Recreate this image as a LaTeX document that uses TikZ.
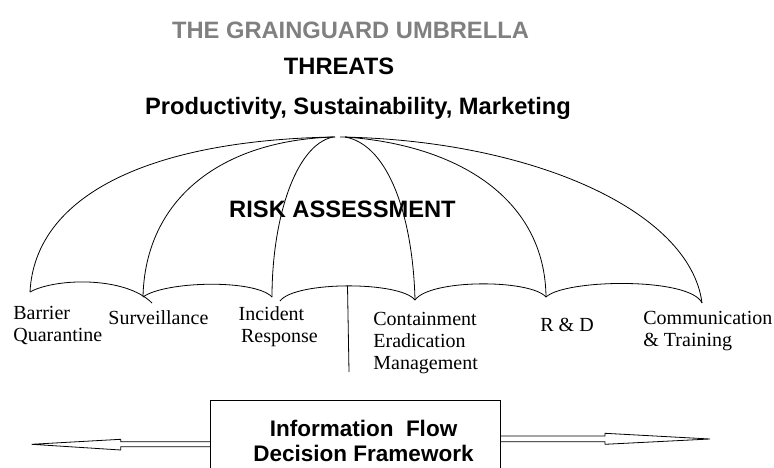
\documentclass[tikz,border=0pt]{standalone}
\usepackage{fontspec}
\setmainfont{Liberation Serif}
\newfontfamily\arialf{Liberation Sans}
\usetikzlibrary{calc}
\definecolor{titlegray}{RGB}{128,128,128}
\begin{document}
\begin{tikzpicture}[x=1bp,y=-1bp, line width=0.8bp, line join=miter,
  heading/.style={font=\arialf\bfseries\fontsize{23.7bp}{28bp}\selectfont, inner sep=0, anchor=base},
  ribtext/.style={font=\fontsize{20bp}{22bp}\selectfont, inner sep=0, anchor=base west, align=left},
  boxtext/.style={font=\arialf\bfseries\fontsize{22.5bp}{25bp}\selectfont, inner sep=0, anchor=base, align=center},
  framebox/.style={draw=none, minimum width=289bp, minimum height=67bp, inner sep=0}
]
\useasboundingbox (0,0) rectangle (774,468);

% headings
\node[heading, text=titlegray] (title) at (350.5,39) {THE GRAINGUARD UMBRELLA};
\node[heading] (threats) at (339,74.5) {THREATS};
\node[heading] (pillars) at (358,115) {Productivity, Sustainability, Marketing};
\node[heading] (risk) at (342.5,217.3) {RISK ASSESSMENT};

% rib ends
\coordinate (r1) at (30,292);
\coordinate (r2) at (143,297);
\coordinate (r3) at (272,297);
\coordinate (r4) at (415,300);
\coordinate (r5) at (546,297);
\coordinate (r6) at (702,303);
\coordinate (pb) at (349,372);

% ribs
\draw (335,137) .. controls (150,140) and (35,195) .. (r1);
\draw (335,137) .. controls (220,140) and (145,200) .. (r2);
\draw (333,137) .. controls (295,145) and (272,220) .. (r3);
\draw (345,137) .. controls (390,145) and (413,220) .. (r4);
\draw (345,137) .. controls (460,145) and (545,200) .. (r5);
\draw (340,137) .. controls (530,140) and (690,210) .. (r6);

% hem
\draw (r1) .. controls (55,278) and (125,276) .. (152,303);
\draw (r2) .. controls (165,281) and (255,279) .. (r3);
\draw (280,301) .. controls (295,281) and (400,281) .. coordinate[pos=0.5] (pt) (r4);
\draw (r4) .. controls (430,279) and (530,279) .. (r5);
\draw (r5) .. controls (565,279) and (690,277) .. (r6);

% pole
\draw (pt) -- (pb);

% labels (base anchor = baseline of last line)
\node[ribtext] (barrier) at (13,342) {Barrier\\Quarantine};
\node[ribtext] (surv) at (108,324.3) {Surveillance};
\node[ribtext] (incident) at (238.3,342.5) {Incident\\\hspace*{2.4bp}Response};
\node[ribtext] (contain) at (373,369.5) {Containment\\Eradication\\Management};
\node[ribtext] (rd) at (540,331.7) {R \& D};
\node[ribtext] (comm) at (643,347) {Communication\\\& Training};

% decision box
\node[framebox] (box) at (355.5,434.5) {};
\draw (box.south west) -- (box.north west) -- (box.north east) -- (box.south east);
\node[boxtext] (boxlabel) at (363.5,461.7) {Information\ \ Flow\\Decision Framework};

% hollow arrows
\coordinate (ltip) at (31.7,444.3);
\coordinate (rtip) at (710,439);
\draw ($(box.west |- ltip)+(0,-2.6)$) -- ($(ltip)+(89,-2.6)$) -- ($(ltip)+(89,-5)$)
  -- (ltip) -- ($(ltip)+(89,5.7)$) -- ($(ltip)+(89,2.4)$) -- ($(box.west |- ltip)+(0,2.4)$);
\draw ($(box.east |- rtip)+(0,-3)$) -- ($(rtip)+(-105,-3)$) -- ($(rtip)+(-105,-5.7)$)
  -- (rtip) -- ($(rtip)+(-105,5.3)$) -- ($(rtip)+(-105,2.7)$) -- ($(box.east |- rtip)+(0,2.7)$);
\end{tikzpicture}
\end{document}
